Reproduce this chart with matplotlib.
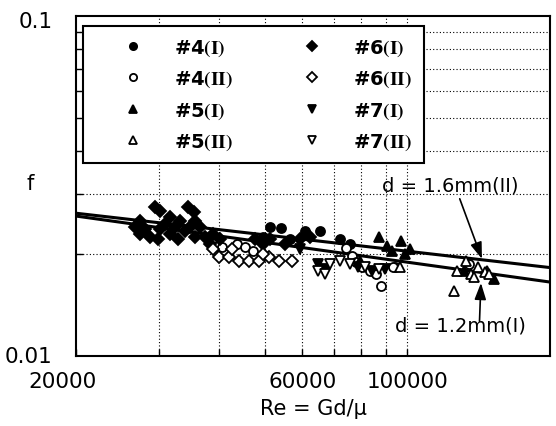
import matplotlib
matplotlib.use("Agg")
import matplotlib.pyplot as plt
import matplotlib.ticker as mticker
import matplotlib.transforms as mtrans

plt.rcParams['font.family'] = ['DejaVu Sans']
plt.rcParams['mathtext.fontset'] = 'stix'

# friction factor data, Re = Gd/mu
re_4_1 = [51300, 54100, 49500, 56600, 60800, 65400, 72100, 75700]
f_4_1 = [0.0240, 0.0238, 0.0224, 0.0221, 0.0233, 0.0233, 0.0221, 0.0214]

re_4_2 = [39800, 40700, 43700, 45500, 47300, 74300, 76400, 77900, 80200,
          83400, 86000, 94200, 88000, 93400, 135000]
f_4_2 = [0.0211, 0.0209, 0.0214, 0.0209, 0.0204, 0.0208, 0.0197, 0.0189, 0.0183,
         0.0178, 0.0174, 0.0183, 0.0161, 0.0183, 0.0187]

re_5_1 = [87200, 90500, 97000, 101500, 92800, 98900, 132000, 147000, 152000, 79500]
f_5_1 = [0.0224, 0.0211, 0.0218, 0.0206, 0.0204, 0.0200, 0.0178, 0.0178, 0.0169, 0.0190]

re_5_2 = [125500, 127000, 133000, 136000, 138000, 146000, 149000, 141000, 96500]
f_5_2 = [0.0155, 0.0178, 0.0190, 0.0174, 0.0171, 0.0177, 0.0174, 0.0183, 0.0183]

re_6_1 = [27300, 28000, 28700, 29400, 30100, 30100, 30800, 31600, 31600, 32400,
          33200, 34000, 34400, 35500, 34800, 35700, 36500, 37400, 38300, 38900,
          47700, 49500, 51300, 55200, 59400, 62300,
          26600, 27300, 29800, 32900, 35700, 40300]
f_6_1 = [0.0250, 0.0236, 0.0224, 0.0274, 0.0267, 0.0236, 0.0244, 0.0229, 0.0256, 0.0240,
         0.0250, 0.0233, 0.0274, 0.0265, 0.0240, 0.0250, 0.0240, 0.0224, 0.0214, 0.0229,
         0.0221, 0.0214, 0.0221, 0.0214, 0.0221, 0.0224,
         0.0240, 0.0229, 0.0221, 0.0221, 0.0224, 0.0221]

re_6_2 = [39000, 40000, 42000, 44200, 46400, 48600, 51000, 53600, 57100, 42700, 49500]
f_6_2 = [0.0206, 0.0196, 0.0196, 0.0190, 0.0190, 0.0190, 0.0196, 0.0190, 0.0190, 0.0206, 0.0200]

re_7_1 = [64700, 67000, 78700, 84200, 89700, 59400]
f_7_1 = [0.0187, 0.0180, 0.0183, 0.0178, 0.0180, 0.0206]

re_7_2 = [64700, 67000, 68700, 72100, 75700, 81400, 87200]
f_7_2 = [0.0178, 0.0174, 0.0187, 0.0190, 0.0187, 0.0183, 0.0180]

# correlation lines (straight on log-log, so two end points each)
re_line = [20000, 200000]
f_line_16 = [0.0263, 0.0182]
f_line_12 = [0.0258, 0.0165]

fig = plt.figure(figsize=(5.56, 4.27), dpi=100)
ax = fig.add_axes([76/556, 70/427, 474/556, 340/427])

ax.plot(re_line, f_line_16, color='black', lw=2.2, zorder=3)
ax.plot(re_line, f_line_12, color='black', lw=2.2, zorder=3)

kw = dict(linestyle='none', markeredgecolor='black', markeredgewidth=1.3, zorder=4)
ax.plot(re_4_1, f_4_1, marker='o', ms=6.5, color='black', label='#4$\\mathbf{(I)}$', **kw)
ax.plot(re_4_2, f_4_2, marker='o', ms=6.5, markerfacecolor='white', color='black', label='#4$\\mathbf{(II)}$', **kw)
ax.plot(re_5_1, f_5_1, marker='^', ms=7, color='black', label='#5$\\mathbf{(I)}$', **kw)
ax.plot(re_5_2, f_5_2, marker='^', ms=7, markerfacecolor='white', color='black', label='#5$\\mathbf{(II)}$', **kw)
ax.plot(re_6_1, f_6_1, marker='D', ms=6.5, color='black', label='#6$\\mathbf{(I)}$', **kw)
ax.plot(re_6_2, f_6_2, marker='D', ms=6.5, markerfacecolor='white', color='black', label='#6$\\mathbf{(II)}$', **kw)
ax.plot(re_7_1, f_7_1, marker='v', ms=7, color='black', label='#7$\\mathbf{(I)}$', **kw)
ax.plot(re_7_2, f_7_2, marker='v', ms=7, markerfacecolor='white', color='black', label='#7$\\mathbf{(II)}$', **kw)

ax.set_xscale('log')
ax.set_yscale('log')
ax.set_xlim(20000, 200000)
ax.set_ylim(0.01, 0.1)

ax.xaxis.set_major_locator(mticker.FixedLocator([20000, 60000, 100000]))
ax.xaxis.set_major_formatter(mticker.FixedFormatter(['20000', '60000', '100000']))
ax.xaxis.set_minor_locator(mticker.FixedLocator([30000, 40000, 50000, 70000, 80000, 90000]))
ax.xaxis.set_minor_formatter(mticker.NullFormatter())
ax.yaxis.set_major_locator(mticker.FixedLocator([0.01, 0.1]))
ax.yaxis.set_major_formatter(mticker.FixedFormatter(['0.01', '0.1']))
ax.yaxis.set_minor_locator(mticker.FixedLocator([0.02, 0.03, 0.04, 0.05, 0.06, 0.07, 0.08, 0.09]))
ax.yaxis.set_minor_formatter(mticker.NullFormatter())

ax.tick_params(which='both', direction='in', length=5, width=1, color='black',
               labelsize=15.5)
ax.tick_params(axis='y', which='major', length=0, pad=17)
ax.tick_params(axis='x', which='major', pad=11)

# dotted grid at 30000..100000 and 0.02..0.09
for xv in [30000, 40000, 50000, 60000, 70000, 80000, 90000, 100000]:
    ax.axvline(xv, color='black', lw=0.8, ls=(0, (1, 2)), zorder=1)
for yv in [0.02, 0.03, 0.04, 0.05, 0.06, 0.07, 0.08, 0.09]:
    ax.axhline(yv, color='black', lw=0.8, ls=(0, (1, 2)), zorder=1)

for s in ax.spines.values():
    s.set_linewidth(1.5)

# nudge the end labels off the corners
lbl = ax.xaxis.get_majorticklabels()[0]
lbl.set_transform(lbl.get_transform() + mtrans.ScaledTranslation(-0.14, 0, fig.dpi_scale_trans))
ylb = ax.yaxis.get_majorticklabels()
ylb[0].set_transform(ylb[0].get_transform() + mtrans.ScaledTranslation(0, 0.02, fig.dpi_scale_trans))
ylb[1].set_transform(ylb[1].get_transform() + mtrans.ScaledTranslation(0, -0.03, fig.dpi_scale_trans))

ax.set_xlabel('Re = Gd/\u03bc', fontsize=15, labelpad=5)
ax.set_ylabel('f', fontsize=15, rotation=0, va='center', ha='center')
ax.yaxis.set_label_coords(-0.097, 0.51)

handles, labels = ax.get_legend_handles_labels()
leg = ax.legend(handles, labels, ncol=2, loc='upper left',
                bbox_to_anchor=(0.0148, 0.55, 0.72, 0.421), mode='expand',
                prop={'weight': 'bold', 'size': 14},
                frameon=True, fancybox=False, edgecolor='black', framealpha=1,
                markerscale=0.8, handlelength=3.9, handletextpad=0.17,
                labelspacing=0.56, borderpad=0.6, borderaxespad=0)
leg.get_frame().set_linewidth(1.5)
leg.set_zorder(5)

head = dict(arrowstyle='-|>,head_length=1.0,head_width=0.35', color='black', lw=1.2,
            shrinkA=0, shrinkB=0)
ax.text(88400, 0.0318, 'd = 1.6mm(II)', fontsize=14, ha='left', va='center', zorder=6)
ax.annotate('', xy=(143700, 0.0193), xytext=(129000, 0.0290), arrowprops=head, zorder=6)
ax.text(94200, 0.01234, 'd = 1.2mm(I)', fontsize=14, ha='left', va='center', zorder=6)
ax.annotate('', xy=(143000, 0.0164), xytext=(142000, 0.01265), arrowprops=head, zorder=6)

fig.savefig('out.png', dpi=100)
